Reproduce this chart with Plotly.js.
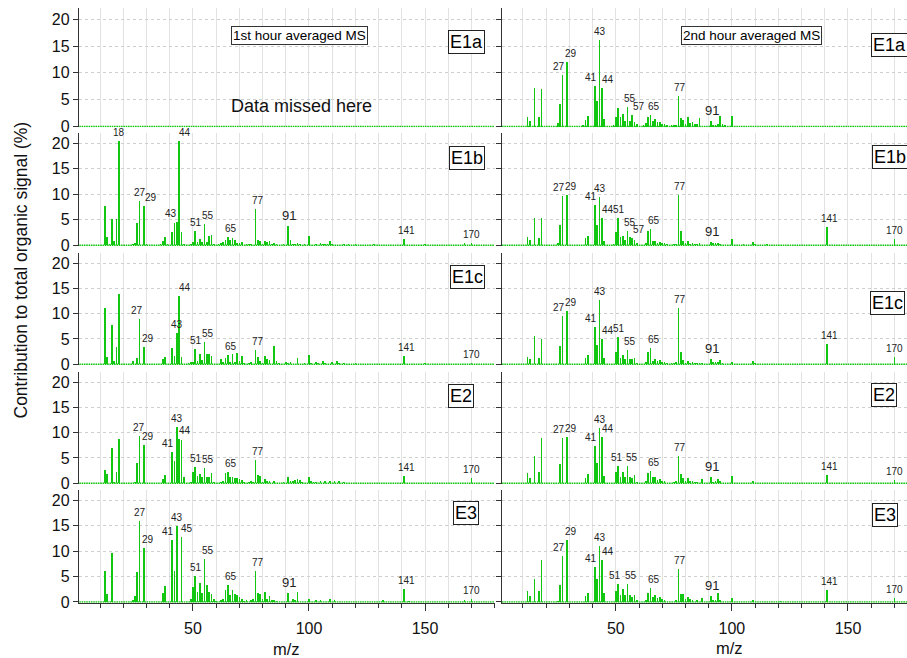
<!DOCTYPE html>
<html>
<head>
<meta charset="utf-8">
<script src="https://cdn.plot.ly/plotly-3.0.1.min.js"></script>
<style>
  html, body { margin: 0; padding: 0; background: #fff; }
  #chart { width: 907px; height: 658px; }
</style>
</head>
<body>
<div id="chart"></div>
<script>
// ---------------- DATA ----------------
const panelNames = ['E1a', 'E1b', 'E1c', 'E2', 'E3'];
const columnTitles = ['1st hour averaged MS', '2nd hour averaged MS'];
const missingNote = 'Data missed here';
const xAxisTitle = 'm/z';
const yAxisTitle = 'Contribution to total organic signal (%)';
const yTickValues = [0, 5, 10, 15, 20];

// 1st hour (left column)
const mzE1a1 = [];
const valE1a1 = [];

const mzE1b1 = [12,13,14,15,16,17,18,24,25,26,27,29,30,36,37,38,39,41,42,43,44,45,46,49,50,51,52,53,54,55,56,57,58,59,61,62,63,64,65,66,67,68,69,70,71,73,74,75,77,78,79,80,81,82,83,84,85,86,89,91,92,93,94,95,96,98,100,103,105,106,107,108,109,110,115,117,120,128,141,150,167,170];
const valE1b1 = [7.6,1.6,0.3,5.1,0.8,5.1,20.4,0.2,0.4,4.3,8.6,7.7,0.2,0.3,0.8,1.6,0.3,2.6,4.4,4.6,20.4,2.5,0.2,0.3,0.7,2.8,0.6,1.3,0.6,4.1,0.7,1.9,2.0,0.2,0.2,0.4,0.7,1.0,1.7,1.0,1.4,1.1,0.4,0.4,0.7,0.2,0.3,0.2,7.1,1.0,0.8,0.2,0.8,0.6,0.8,0.3,0.5,0.2,0.3,3.7,1.0,0.2,0.3,0.4,0.2,0.3,1.8,0.2,0.5,0.3,0.3,0.3,0.8,0.3,0.3,0.2,0.2,0.2,1.3,0.2,0.4,0.5];

const mzE1c1 = [12,13,15,16,17,18,24,26,27,29,37,38,41,42,43,44,45,48,49,50,51,52,53,54,55,56,57,58,62,63,64,65,66,67,68,69,70,71,72,74,75,77,78,79,80,81,82,83,85,86,87,90,91,92,95,98,100,101,103,104,106,107,110,112,113,115,120,141,150,170];
const valE1c1 = [11.2,1.5,7.7,0.6,3.5,13.8,0.7,1.2,9.0,3.4,1.0,1.4,3.3,1.7,6.1,13.4,1.4,0.3,0.4,0.4,3.0,0.6,2.0,0.8,4.4,2.0,2.1,1.7,1.0,0.4,1.2,1.9,0.5,2.0,0.5,2.2,0.6,1.6,0.2,0.3,0.5,2.9,1.5,0.7,0.3,1.6,1.0,0.8,3.6,0.6,0.2,0.4,0.3,0.5,1.2,0.3,1.9,0.3,0.4,0.2,0.7,0.3,0.5,0.7,0.3,0.3,0.2,1.6,0.2,0.3];

const mzE21 = [12,13,15,16,17,18,25,26,27,29,37,38,41,42,43,44,45,46,49,50,51,52,53,54,55,56,57,58,59,62,63,64,65,66,67,68,69,70,71,72,74,75,76,77,78,79,80,81,82,83,85,89,91,92,93,94,95,96,97,100,101,102,103,105,107,109,111,113,115,141,170];
const valE21 = [2.7,1.8,7.0,0.3,2.2,8.8,0.3,4.1,9.3,7.6,0.8,1.7,6.2,4.3,11.2,8.7,8.6,1.2,0.3,2.3,3.3,1.4,1.8,1.2,3.0,1.3,1.2,2.1,0.3,0.3,0.5,2.0,2.3,1.3,1.2,1.0,1.1,0.9,0.6,0.2,0.3,0.4,0.3,4.5,1.6,1.5,0.3,0.9,0.4,0.5,0.5,0.2,1.2,0.5,0.4,0.7,0.9,0.6,0.3,1.2,0.4,0.3,0.3,0.5,0.5,0.5,0.4,0.4,0.3,1.5,1.0];

const mzE31 = [12,13,15,24,25,26,27,29,37,38,41,42,43,45,49,50,51,52,53,54,55,56,57,58,59,60,62,63,64,65,66,67,68,69,70,71,72,73,75,76,77,78,79,80,81,82,83,84,85,86,91,93,94,95,100,103,105,109,111,132,141,143,167,170];
const valE31 = [6.0,1.6,9.7,0.4,1.1,5.9,15.9,10.6,1.8,3.1,12.2,6.1,14.9,12.7,0.5,2.9,5.2,1.9,3.8,1.7,8.5,3.4,1.9,1.5,0.6,0.2,0.3,0.6,2.3,3.4,1.3,2.3,1.5,1.3,1.0,0.5,0.2,0.3,0.3,0.5,6.1,1.7,1.6,0.5,2.0,0.6,1.2,0.3,0.4,0.2,1.7,0.5,0.4,2.0,0.6,0.3,0.3,0.6,0.3,0.3,2.5,0.2,0.3,0.6];

// 2nd hour (right column)
const mzE1a2 = [12,13,15,17,18,25,26,27,29,36,37,38,41,42,43,44,45,49,50,51,52,53,54,55,56,57,58,59,62,63,64,65,66,67,68,69,70,71,72,74,75,76,77,78,79,80,81,82,83,84,85,86,91,92,93,94,95,96,97,100];
const valE1a2 = [1.7,1.1,7.2,1.7,7.0,0.7,4.2,9.6,12.1,0.2,1.3,2.0,7.5,4.7,16.2,7.1,1.4,0.3,1.8,3.5,1.7,2.3,1.1,3.7,1.1,2.2,0.9,0.4,0.3,0.6,1.7,2.2,1.0,1.4,0.8,0.9,0.4,0.5,0.2,0.2,0.2,0.3,5.6,1.5,1.2,0.5,1.7,0.6,0.8,0.5,0.4,1.5,1.1,0.2,0.3,0.4,1.9,0.4,0.3,1.9];

const mzE1b2 = [12,13,15,17,18,25,26,27,29,37,38,41,42,43,44,45,49,50,51,52,53,54,55,56,57,58,59,63,64,65,66,67,68,69,70,71,72,75,76,77,78,79,80,81,82,83,84,85,86,91,92,93,94,95,100,105,109,110,115,141,170];
const valE1b2 = [1.7,1.0,5.4,1.4,5.4,0.4,3.9,9.7,9.9,1.4,1.9,7.9,4.0,9.5,5.3,0.9,0.3,2.6,5.4,1.7,1.8,1.0,2.7,1.6,1.4,1.1,0.4,0.4,2.7,3.1,0.8,0.9,0.5,0.7,0.4,0.4,0.2,0.3,0.2,9.9,2.7,0.8,0.4,0.8,0.3,0.5,0.3,0.3,0.5,0.65,0.4,0.4,0.5,0.3,1.2,0.2,0.7,0.3,0.2,3.6,1.3];

const mzE1c2 = [12,13,15,17,18,26,27,29,37,38,41,42,43,44,45,50,51,52,53,54,55,56,57,58,59,63,64,65,66,67,68,69,70,71,72,74,75,76,77,78,79,80,81,82,83,84,85,86,87,91,92,93,94,95,96,100,109,110,141,170];
const valE1c2 = [1.4,1.0,5.6,1.2,4.9,3.7,9.5,10.6,1.2,1.8,7.3,3.9,12.7,4.9,1.2,2.4,5.4,1.3,1.8,1.0,2.9,1.0,1.0,1.3,0.3,0.4,2.4,3.2,0.6,1.0,0.6,0.9,0.5,0.5,0.2,0.2,0.3,0.4,11.1,2.4,0.8,0.3,0.6,0.3,0.4,0.2,0.3,0.2,0.3,1.0,0.4,0.4,0.5,0.9,0.2,0.5,0.6,0.3,4.0,1.4];

const mzE22 = [12,13,15,17,18,26,27,29,37,38,41,42,43,44,45,50,51,52,53,54,55,56,57,58,59,63,64,65,66,67,68,69,70,71,75,76,77,78,79,80,81,82,83,84,85,87,91,92,93,94,95,100,109,141,170];
const valE22 = [2.1,1.0,5.3,2.3,9.0,3.9,9.0,9.2,1.1,1.9,7.3,4.0,10.9,9.1,1.4,2.2,3.4,1.3,2.3,1.3,3.4,1.2,1.1,1.6,0.3,0.4,2.1,2.5,1.2,1.2,0.7,0.9,0.5,0.4,0.3,0.4,5.4,1.9,1.0,0.4,1.1,0.4,0.5,0.2,0.3,0.8,1.2,0.3,0.4,0.9,0.5,1.5,0.5,1.6,0.7];

const mzE32 = [12,13,15,17,18,25,26,27,29,37,38,41,42,43,44,45,50,51,52,53,54,55,56,57,58,59,63,64,65,66,67,68,69,70,71,76,77,78,79,80,81,82,83,85,87,91,92,93,94,95,100,109,121,141,170];
const valE32 = [2.1,1.2,4.5,2.1,8.3,0.2,3.4,9.0,12.2,1.2,1.8,6.9,4.5,11.0,8.3,1.8,2.2,3.6,1.3,2.5,1.3,3.6,1.3,1.0,1.3,0.3,0.4,1.8,2.7,1.0,1.3,0.7,0.9,0.5,0.4,0.4,6.4,1.6,1.6,0.6,1.0,0.5,0.4,0.4,0.7,1.2,0.4,0.3,1.7,0.4,0.8,0.3,0.2,2.3,0.8];

// peaks carrying an m/z label
const lblE1a1 = [];
const lblE1b1 = [18,27,29,43,44,51,55,65,77,91,141,170];
const lblE1c1 = [27,29,43,44,51,55,65,77,141,170];
const lblE21  = [27,29,41,43,44,51,55,65,77,141,170];
const lblE31  = [27,29,41,43,45,51,55,65,77,91,141,170];
const lblE1a2 = [27,29,41,43,44,55,57,65,77,91];
const lblE1b2 = [27,29,41,43,44,51,55,57,65,77,91,141,170];
const lblE1c2 = [27,29,41,43,44,51,55,65,77,91,141,170];
const lblE22  = [27,29,41,43,44,51,55,65,77,91,141,170];
const lblE32  = [27,29,41,43,44,51,55,65,77,91,141,170];

// ---------------- STYLE ----------------
const GREEN = '#12c612';
const FONT = 'Liberation Sans, Arial, Helvetica, sans-serif';
const W = 907, H = 658;
const colDomPx = [[79.3, 494.6], [502, 907]];
const colRange = [[1, 180], [1, 1 + 405 / 2.322]];
const rowPx = [[8.3, 127.3], [132.7, 246], [252.7, 365], [371.7, 484], [490, 602.7]];
const yRange = [-0.15, 22.05];
const labelXShift = {27: -3, 29: 4, 41: -4, 43: 0, 44: 6, 45: 6, 51: 1, 55: 3, 57: 7, 65: 3, 77: 2, 91: 1, 141: 2, 170: 0};
const bigLabels = {91: true};
const panelLabelOverride = {
  'E1b1': {43: -6, 27: 0, 29: 7},
  'E31': {27: 0},
  'E21': {27: -1},
  'E22': {51: -1, 55: 5},
  'E32': {51: -3, 55: 4}
};
const boxPos = {
  // [x px, y px, anchor]
  'E1a1': [466.7, 41.7, 'center'], 'E1a2': [871, 45, 'left'],
  'E1b1': [466.5, 157.5, 'center'], 'E1b2': [872, 157, 'left'],
  'E1c1': [467, 276.5, 'center'], 'E1c2': [870, 302.5, 'left'],
  'E21':  [461, 395.5, 'center'], 'E22':  [871, 395, 'left'],
  'E31':  [465.5, 513, 'center'], 'E32':  [872, 514.5, 'left']
};

const dataSets = {
  'E1a1': [mzE1a1, valE1a1, lblE1a1], 'E1a2': [mzE1a2, valE1a2, lblE1a2],
  'E1b1': [mzE1b1, valE1b1, lblE1b1], 'E1b2': [mzE1b2, valE1b2, lblE1b2],
  'E1c1': [mzE1c1, valE1c1, lblE1c1], 'E1c2': [mzE1c2, valE1c2, lblE1c2],
  'E21':  [mzE21,  valE21,  lblE21],  'E22':  [mzE22,  valE22,  lblE22],
  'E31':  [mzE31,  valE31,  lblE31],  'E32':  [mzE32,  valE32,  lblE32]
};

const px2x = p => p / W;
const px2y = p => 1 - p / H;

const traces = [];
const layout = {
  width: W, height: H, autosize: false,
  margin: {l: 0, r: 0, t: 0, b: 0, pad: 0},
  paper_bgcolor: '#fff', plot_bgcolor: 'rgba(0,0,0,0)',
  showlegend: false, bargap: 0,
  font: {family: FONT, color: '#000', size: 16},
  annotations: [], shapes: []
};

panelNames.forEach((name, r) => {
  [0, 1].forEach(c => {
    const idx = r * 2 + c + 1;
    const key = name + (c + 1);
    const [mz, val, lbl] = dataSets[key];
    const xa = 'x' + (idx === 1 ? '' : idx);
    const ya = 'y' + (idx === 1 ? '' : idx);
    const bottom = r === panelNames.length - 1;

    traces.push({
      type: 'bar', x: mz, y: val, xaxis: xa, yaxis: ya, width: 0.72,
      marker: {color: GREEN, line: {width: 0}}, hoverinfo: 'skip'
    });

    layout['xaxis' + (idx === 1 ? '' : idx)] = {
      domain: [px2x(colDomPx[c][0]), px2x(colDomPx[c][1])],
      range: colRange[c], anchor: ya, fixedrange: true,
      dtick: 50, tick0: 0,
      showgrid: true, gridcolor: '#e2e2e2', gridwidth: 1,
      zeroline: false,
      showline: bottom, linecolor: '#333', linewidth: 1,
      ticks: bottom ? 'outside' : '', ticklen: 7, tickcolor: '#333', tickwidth: 1,
      ticklabelstandoff: 4,
      showticklabels: bottom,
      tickfont: {family: FONT, size: 16, color: '#111'},
      minor: {dtick: 10, tick0: 0, showgrid: true, gridcolor: '#e2e2e2', gridwidth: 1,
              ticks: bottom ? 'outside' : '', ticklen: 4, tickcolor: '#333', tickwidth: 1}
    };
    layout['yaxis' + (idx === 1 ? '' : idx)] = {
      domain: [px2y(rowPx[r][1]), px2y(rowPx[r][0])],
      range: yRange, anchor: xa, fixedrange: true,
      tickvals: yTickValues, ticks: 'outside', ticklen: 5, tickcolor: '#333', tickwidth: 1,
      showticklabels: c === 0,
      tickfont: {family: FONT, size: 16, color: '#111'},
      showline: true, linecolor: '#333', linewidth: 1.5,
      showgrid: true, gridcolor: '#cfcfcf', griddash: 'dot', gridwidth: 1,
      zeroline: false
    };

    // zero-intensity floor drawn as a dotted green line
    layout.shapes.push({
      type: 'line', xref: xa + ' domain', yref: ya, x0: 0, x1: 1, y0: 0, y1: 0,
      line: {color: GREEN, width: 1.5, dash: '1.6px,0.72px'}, layer: 'above'
    });

    // peak labels
    const over = panelLabelOverride[key] || {};
    lbl.forEach(m => {
      const i = mz.indexOf(m);
      if (i < 0) return;
      layout.annotations.push({
        xref: xa, yref: ya, x: m, y: val[i], text: String(m),
        showarrow: false, yanchor: 'bottom', xanchor: 'center',
        xshift: (m in over) ? over[m] : (labelXShift[m] || 0), yshift: 1,
        font: {family: FONT, size: bigLabels[m] ? 13 : 10, color: '#222'}
      });
    });

    // panel label box
    const bp = boxPos[key];
    layout.annotations.push({
      xref: 'paper', yref: 'paper', x: px2x(bp[0]), y: px2y(bp[1]),
      xanchor: bp[2], yanchor: 'middle', text: name, showarrow: false,
      font: {family: FONT, size: 18, color: '#000'},
      bordercolor: '#222', borderwidth: 1, borderpad: 1, bgcolor: '#fff'
    });
  });
});

// column titles
[[299, 35], [751, 36]].forEach((p, c) => {
  layout.annotations.push({
    xref: 'paper', yref: 'paper', x: px2x(p[0]), y: px2y(p[1]),
    xanchor: 'center', yanchor: 'middle', text: columnTitles[c], showarrow: false,
    font: {family: FONT, size: 13.5, color: '#000'},
    bordercolor: '#333', borderwidth: 1, borderpad: 1, bgcolor: '#fff'
  });
});
layout.annotations.push({
  xref: 'paper', yref: 'paper', x: px2x(301), y: px2y(106),
  xanchor: 'center', yanchor: 'middle', text: missingNote, showarrow: false,
  font: {family: FONT, size: 18, color: '#111'}
});
// axis titles
[[286.7, 648.5], [729, 648]].forEach(p => {
  layout.annotations.push({
    xref: 'paper', yref: 'paper', x: px2x(p[0]), y: px2y(p[1]),
    xanchor: 'center', yanchor: 'middle', text: xAxisTitle, showarrow: false,
    font: {family: FONT, size: 16.5, color: '#111'}, borderpad: 0
  });
});
layout.annotations.push({
  xref: 'paper', yref: 'paper', x: px2x(20), y: px2y(270.5),
  xanchor: 'center', yanchor: 'middle', text: yAxisTitle, showarrow: false, textangle: -90,
  font: {family: FONT, size: 17.5, color: '#111'}
});

Plotly.newPlot('chart', traces, layout, {staticPlot: true, displayModeBar: false, responsive: false});
</script>
</body>
</html>
